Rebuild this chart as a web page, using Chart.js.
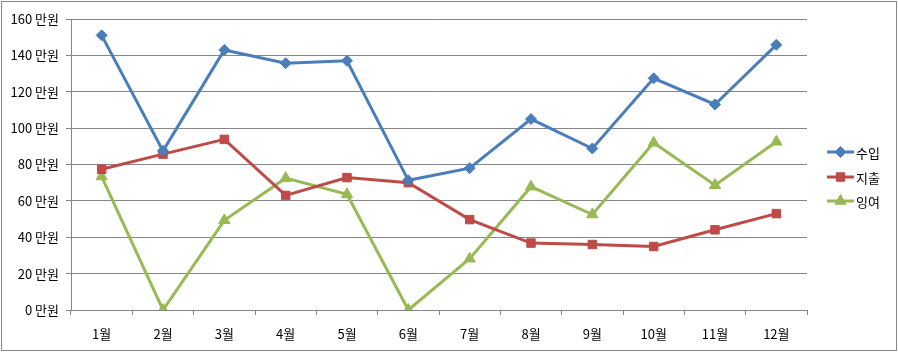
<!DOCTYPE html>
<html><head><meta charset="utf-8">
<script src="https://cdn.jsdelivr.net/npm/chart.js@4/dist/chart.umd.min.js"></script>
<style>html,body{margin:0;padding:0;background:#fff}#wrap{width:898px;height:352px;position:relative}</style>
</head><body><div id="wrap"><canvas id="c" width="898" height="352"></canvas></div>
<script>
const categories = ['1월','2월','3월','4월','5월','6월','7월','8월','9월','10월','11월','12월'];
const income  = [151, 87.5, 143, 135.7, 137, 71.3, 78, 105, 88.8, 127.4, 113, 145.8];
const expense = [77.4, 85.7, 93.8, 63, 72.8, 70, 49.7, 36.8, 36, 34.9, 44.1, 53];
const surplus = [73.4, 0, 49.3, 72.5, 63.6, 0, 28.2, 67.8, 52.5, 91.9, 68.6, 92.5];
const seriesNames = ['수입','지출','잉여'];
const yTicks = [0,20,40,60,80,100,120,140,160];
const unit = ' 만원';

const FONT = "'Noto Sans CJK KR', 'Noto Sans', sans-serif";
const colors = ['#4A7EBB','#BE4B48','#98B954'];
const styles = ['rectRot','rect','triangle'];
const radii = [5.5,6,6.5];

const mk = (label,data,i)=>({
  label, data, borderColor:colors[i], backgroundColor:colors[i],
  pointStyle:styles[i], pointRadius:radii[i], pointHoverRadius:radii[i],
  pointBorderColor:colors[i], pointBackgroundColor:colors[i], pointBorderWidth:1,
  borderWidth:3, tension:0, fill:false
});

new Chart(document.getElementById('c'),{
  type:'line',
  data:{labels:categories, datasets:[mk(seriesNames[0],income,0),mk(seriesNames[1],expense,1),mk(seriesNames[2],surplus,2)]},
  options:{
    responsive:false, animation:false, devicePixelRatio:1,
    layout:{padding:{left:0,top:19,right:91,bottom:0}},
    plugins:{legend:{display:false},tooltip:{enabled:false}},
    scales:{
      y:{min:0,max:160,
        afterBuildTicks(s){ s.ticks = yTicks.map(v=>({value:v})); },
        afterFit(s){ s.width = 71; },
        ticks:{color:'#000',font:{family:FONT,size:13},padding:7,callback:v=>v+unit},
        grid:{color:'#868686',lineWidth:1,tickLength:5},
        border:{color:'#868686',width:1}
      },
      x:{offset:true,
        afterFit(s){ s.height = 352-310; },
        ticks:{color:'#000',font:{family:FONT,size:13},padding:11,maxRotation:0,autoSkip:false},
        grid:{offset:true,drawOnChartArea:false,drawTicks:true,tickLength:5,color:'#868686'},
        border:{color:'#868686',width:1}
      }
    }
  },
  plugins:[{
    id:'legendAndFrame',
    afterDraw(chart){
      const ctx = chart.ctx;
      ctx.save();
      const ys = [152,177,201];
      chart.data.datasets.forEach((ds,i)=>{
        ctx.strokeStyle = ds.borderColor; ctx.fillStyle = ds.borderColor; ctx.lineWidth = 3;
        ctx.beginPath(); ctx.moveTo(827,ys[i]); ctx.lineTo(854,ys[i]); ctx.stroke();
        ctx.lineWidth = 1;
        Chart.helpers.drawPoint(ctx,{pointStyle:ds.pointStyle,radius:ds.pointRadius,borderWidth:1},840.5,ys[i]);
        ctx.fillStyle = '#000'; ctx.font = '13px ' + FONT; ctx.textBaseline='middle'; ctx.textAlign='left';
        ctx.fillText(ds.label, 856, ys[i]+1);
      });
      ctx.strokeStyle='#868686'; ctx.lineWidth=1;
      ctx.strokeRect(1.5,1.5,895,349);
      ctx.restore();
    }
  }]
});
</script></body></html>
